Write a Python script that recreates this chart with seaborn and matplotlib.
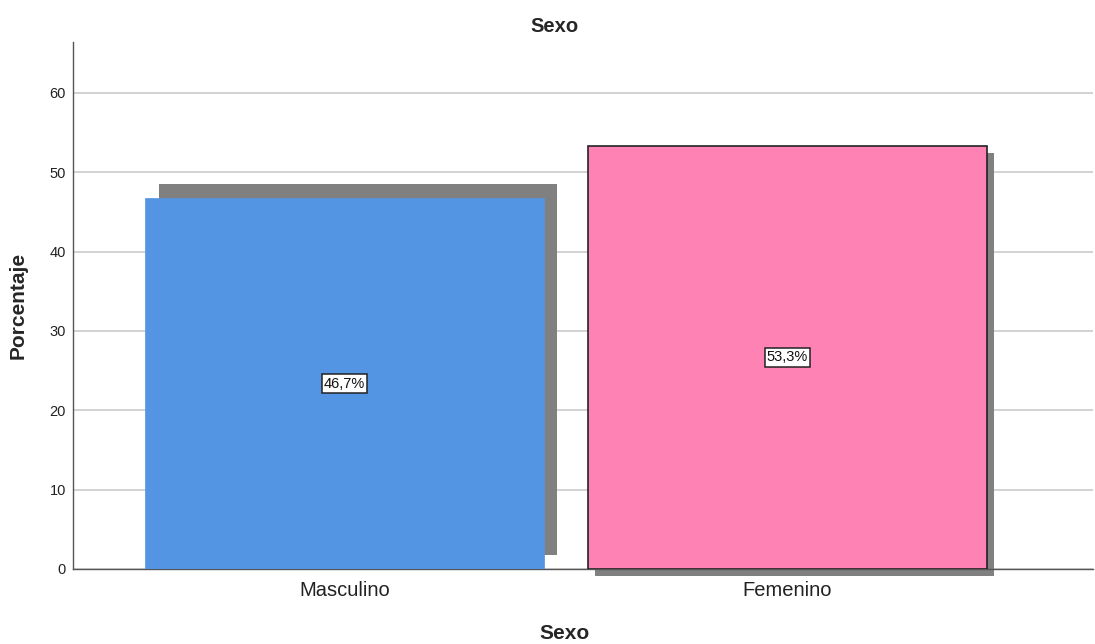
import numpy as np
import pandas as pd
import matplotlib
matplotlib.use("Agg")
import matplotlib.pyplot as plt
import seaborn as sns

# data
categorias = ["Masculino", "Femenino"]
porcentajes = [46.7, 53.3]
etiquetas = ["46,7%", "53,3%"]
colores = ["#5495E3", "#FF82B4"]

df = pd.DataFrame({"Sexo": categorias, "Porcentaje": porcentajes})

sns.set_style("white")
plt.rcParams["font.family"] = ["Liberation Sans", "DejaVu Sans"]

fig = plt.figure(figsize=(10.95, 6.44), dpi=100)
ax = fig.add_axes([0.0667, 0.1165, 0.9315, 0.8183])

# drop shadows (SPSS style), offsets are purely cosmetic
pos = np.arange(len(categorias))
shadow_dx = [0.03, 0.016]
shadow_dy = [1.75, -0.9]
ax.bar(pos + np.array(shadow_dx), porcentajes, width=0.9, bottom=shadow_dy,
       color="#808080", linewidth=0, zorder=2, clip_on=False)

sns.barplot(data=df, x="Sexo", y="Porcentaje", hue="Sexo", palette=colores,
            width=0.9, legend=False, ax=ax, zorder=3, saturation=1)

for i, p in enumerate(ax.patches[len(categorias):]):
    if i == 1:
        p.set_edgecolor("#222222")
        p.set_linewidth(1.2)
    else:
        p.set_edgecolor(colores[i])
        p.set_linewidth(0.5)

for i, (v, t) in enumerate(zip(porcentajes, etiquetas)):
    ax.text(i, v / 2, t, ha="center", va="center", fontsize=10.5, zorder=5,
            color="#111111",
            bbox=dict(boxstyle="square,pad=0.15", facecolor="white",
                      edgecolor="#222222", linewidth=1.1))

ax.set_xlim(-0.613, 1.69)
ax.set_ylim(0, 66.4)
ax.set_yticks([0, 10, 20, 30, 40, 50, 60])
ax.yaxis.grid(True, color="#CFCFCF", linewidth=1.3, zorder=0)
ax.set_axisbelow(True)

for s in ["top", "right"]:
    ax.spines[s].set_visible(False)
ax.spines["left"].set_color("#555555")
ax.spines["bottom"].set_color("#555555")
ax.spines["left"].set_linewidth(1.0)
ax.spines["bottom"].set_linewidth(1.0)

ax.tick_params(axis="y", length=0, pad=5, labelsize=10.5, labelcolor="#222222")
ax.tick_params(axis="x", length=0, pad=9, labelsize=14.5, labelcolor="#222222")

ax.set_title("Sexo", fontsize=14.5, fontweight="bold", pad=7, x=0.4716)
ax.set_xlabel("Sexo", fontsize=15, fontweight="bold")
ax.xaxis.set_label_coords(0.482, -0.104)
ax.set_ylabel("Porcentaje", fontsize=15, fontweight="bold", labelpad=16)

plt.savefig("out.png", dpi=100)
plt.close()
